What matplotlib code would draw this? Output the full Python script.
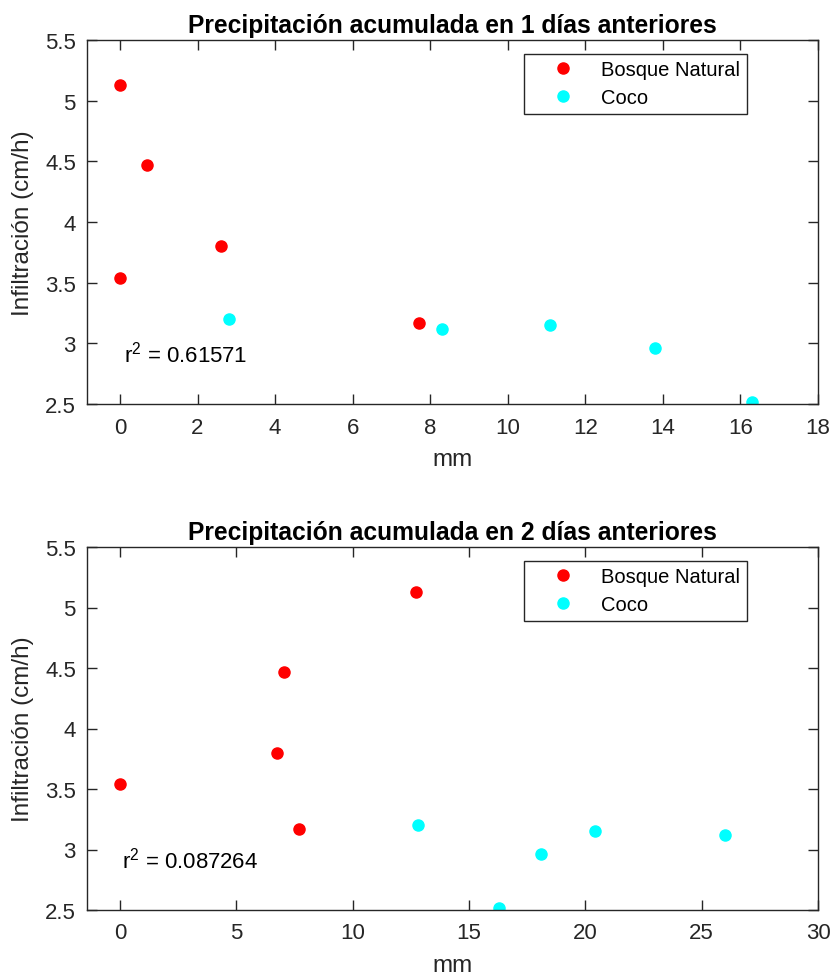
import matplotlib
matplotlib.use("Agg")
import matplotlib.pyplot as plt
from matplotlib.ticker import FormatStrFormatter

plt.rcParams['font.family'] = ['Liberation Sans', 'DejaVu Sans']

# infiltración (cm/h)
bosque_inf = [5.13, 4.47, 3.80, 3.54, 3.17]
coco_inf = [3.20, 3.12, 3.15, 2.96, 2.52]

# precipitación acumulada (mm)
bosque_p1 = [0, 0.7, 2.6, 0, 7.7]
coco_p1 = [2.8, 8.3, 11.1, 13.8, 16.3]
bosque_p2 = [12.7, 7.05, 6.75, 0, 7.7]
coco_p2 = [12.8, 26.0, 20.4, 18.1, 16.3]

r2 = ['0.61571', '0.087264']
dias = [1, 2]

W, H = 832, 978
fig = plt.figure(figsize=(W / 100, H / 100), dpi=100)
ax1 = fig.add_axes([87 / W, 1 - 405 / H, 731 / W, 364 / H])
ax2 = fig.add_axes([87 / W, 1 - 911 / H, 731 / W, 363 / H])

setups = [
    (ax1, bosque_p1, coco_p1, (-0.85, 18), range(0, 19, 2)),
    (ax2, bosque_p2, coco_p2, (-1.42, 30), range(0, 31, 5)),
]

for i, (ax, bx, cx, xl, xt) in enumerate(setups):
    ax.plot(bx, bosque_inf, 'o', color='red', markersize=8, label='Bosque Natural')
    ax.plot(cx, coco_inf, 'o', color='cyan', markersize=8, label='Coco')
    ax.set_xlim(*xl)
    ax.set_ylim(2.5, 5.5)
    ax.set_xticks(list(xt))
    ax.set_yticks([2.5, 3, 3.5, 4, 4.5, 5, 5.5])
    ax.yaxis.set_major_formatter(FormatStrFormatter('%g'))
    ax.tick_params(direction='in', length=7, width=1, top=True, right=True,
                   labelsize=16, colors='#262626')
    ax.tick_params(axis='x', pad=9)
    ax.tick_params(axis='y', pad=8)
    for s in ax.spines.values():
        s.set_color('#262626')
        s.set_linewidth(1)
    ax.set_title('Precipitación acumulada en %d días anteriores' % dias[i],
                 fontsize=17.7, fontweight='bold', pad=6)
    ax.set_xlabel('mm', fontsize=17.5, color='#262626')
    ax.set_ylabel('Infiltración (cm/h)', fontsize=17.5, color='#262626')
    ax.xaxis.set_label_coords(0.5, -0.122)
    ax.yaxis.set_label_coords(-0.072, 0.5)
    ax.text(0.1, 2.85, r'$\mathregular{r^2}$ = ' + r2[i], fontsize=16, va='baseline')
    leg = ax.legend(loc='upper right', bbox_to_anchor=(0.903, 0.962),
                    borderaxespad=0, fontsize=14.5, numpoints=1,
                    handlelength=3.2, handletextpad=0.33, labelspacing=0.42,
                    borderpad=0.33, fancybox=False, framealpha=1)
    leg.get_frame().set_edgecolor('#262626')
    leg.get_frame().set_linewidth(1)

fig.savefig('out.png', dpi=100)
